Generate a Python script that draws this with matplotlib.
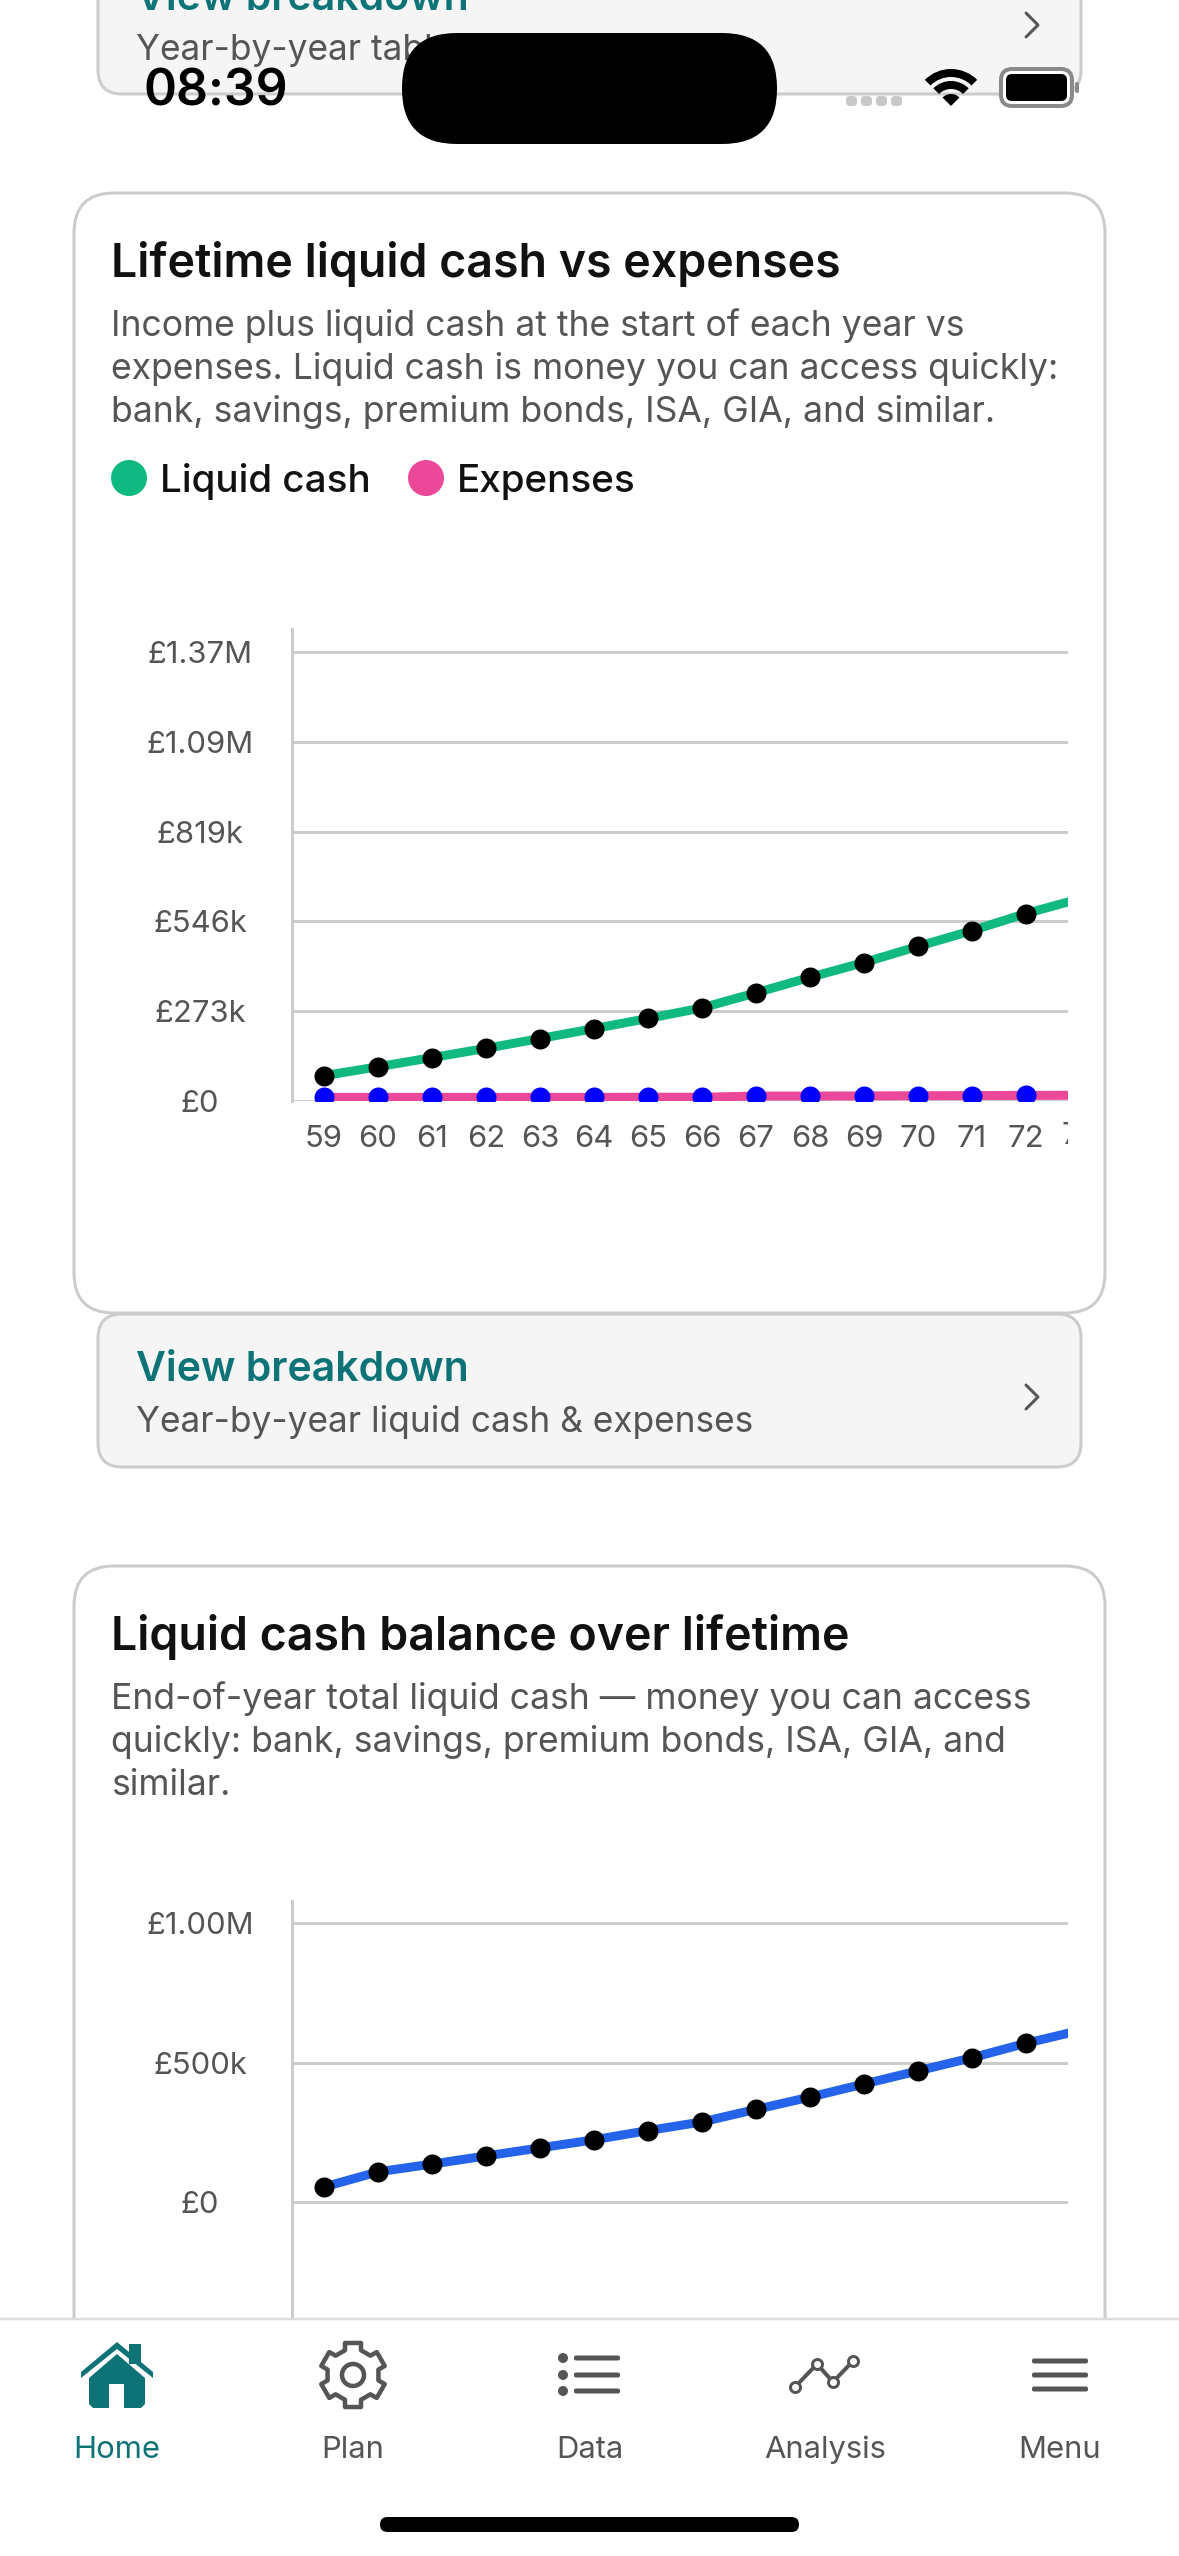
import numpy as np
import matplotlib
matplotlib.use("Agg")
import matplotlib.pyplot as plt
from matplotlib.patches import Circle, FancyBboxPatch, Polygon, Rectangle, Wedge
from matplotlib.transforms import Bbox, blended_transform_factory

plt.rcParams["font.family"] = ["Inter", "DejaVu Sans"]

W, H = 1179, 2556
DPI = 100
PT = 72 / DPI  # one pixel in points

# Data
ages = [59, 60, 61, 62, 63, 64, 65, 66, 67, 68, 69, 70, 71, 72, 73]
liquid_cash_k = [77, 104, 132, 160, 190, 220, 251, 283, 329, 376, 421, 470, 518, 570, 615]
expenses_k = [11, 11, 11, 11, 11, 11, 11.5, 11.5, 15, 15, 15.5, 16, 16.5, 17, 17.5]
balance_k = [54, 108, 136, 165, 194, 223, 256, 287, 332, 376, 423, 470, 517, 569, 615]

ticks_1 = [0, 273, 546, 819, 1092, 1365]
tick_labels_1 = ["£0", "£273k", "£546k", "£819k", "£1.09M", "£1.37M"]
ticks_2 = [0, 500, 1000]
tick_labels_2 = ["£0", "£500k", "£1.00M"]

# Colours
TEAL = "#0e7377"
GREEN = "#10b981"
PINK = "#ec4899"
BLUE = "#2563eb"
GRID = "#cccccc"
TITLE = "#111111"
MUTED = "#555555"

# Font sizes in pixels
TITLE_PX = 46.5
BODY_PX = 35.6
LEGEND_PX = 38.6
LINK_PX = 41
LINK_SUB_PX = 35.3
TICK_PX = 31

LINE_PX = 9
DOT_PX = 20

fig = plt.figure(figsize=(W / DPI, H / DPI), dpi=DPI, facecolor="white")


def pixel_axes(zorder):
    a = fig.add_axes([0, 0, 1, 1], zorder=zorder)
    a.set_xlim(0, W)
    a.set_ylim(H, 0)
    a.axis("off")
    return a


def rounded(a, x0, y0, x1, y1, r, fc, ec=None, lw=3):
    a.add_patch(FancyBboxPatch((x0, y0), x1 - x0, y1 - y0,
                               boxstyle=f"round,pad=0,rounding_size={r}",
                               fc=fc, ec=ec if ec else "none", lw=lw * PT))


def label(a, x, y, s, size, color, weight="normal", ha="left"):
    a.text(x, y, s, fontsize=size * PT, color=color, fontweight=weight, ha=ha, va="baseline")


def chevron(a, x, y0, y1):
    a.plot([x - 6, x + 6, x - 6], [y0, (y0 + y1) / 2, y1], color=MUTED, lw=3 * PT,
           solid_joinstyle="round", solid_capstyle="round")


def button(a, top, bottom, sub, head_base, sub_base):
    rounded(a, 98, top, 1081, bottom, 24, "#f5f5f5", GRID)
    label(a, 136, head_base, "View breakdown", LINK_PX, TEAL, "semibold")
    label(a, 136, sub_base, sub, LINK_SUB_PX, MUTED)
    chevron(a, 1032, head_base + 4, head_base + 28)


def chart_axes(left, top, right, bottom, zero_y, px_per_k):
    ax = fig.add_axes([left / W, 1 - bottom / H, (right - left) / W, (bottom - top) / H], zorder=2)
    ax.patch.set_alpha(0)
    ax.set_xlim(59 - (324 - left) / 54, 59 + (right - 324) / 54)
    ax.set_ylim((zero_y - bottom) / px_per_k, (zero_y - top) / px_per_k)
    for name in ["top", "right", "bottom"]:
        ax.spines[name].set_visible(False)
    ax.spines["left"].set_color(GRID)
    ax.spines["left"].set_linewidth(3 * PT)
    ax.grid(True, axis="y", color=GRID, lw=3 * PT)
    ax.set_axisbelow(True)
    ax.tick_params(axis="y", length=0, pad=92 * PT, labelsize=TICK_PX * PT, labelcolor=MUTED)
    return ax


# Page
bg = pixel_axes(1)

# Button left over from the card above, scrolled under the status bar
rounded(bg, 98, -90, 1081, 94, 24, "#f5f5f5", GRID)
label(bg, 136, 10, "View breakdown", LINK_PX, TEAL, "semibold")
label(bg, 136, 60, "Year-by-year table", LINK_SUB_PX, MUTED)
chevron(bg, 1032, 13, 37)

# First card
rounded(bg, 74, 193, 1105, 1313, 40, "white", GRID)
label(bg, 111, 277, "Lifetime liquid cash vs expenses", TITLE_PX, TITLE, "semibold")
label(bg, 111, 336, "Income plus liquid cash at the start of each year vs", BODY_PX, MUTED)
label(bg, 111, 379, "expenses. Liquid cash is money you can access quickly:", BODY_PX, MUTED)
label(bg, 111, 422, "bank, savings, premium bonds, ISA, GIA, and similar.", BODY_PX, MUTED)
bg.add_patch(Circle((129, 478), 18, fc=GREEN, ec="none"))
label(bg, 160, 492, "Liquid cash", LEGEND_PX, TITLE, "medium")
bg.add_patch(Circle((426, 478), 18, fc=PINK, ec="none"))
label(bg, 457, 492, "Expenses", LEGEND_PX, TITLE, "medium")

button(bg, 1314, 1467, "Year-by-year liquid cash & expenses", 1381, 1432)

# Second card runs on under the tab bar
rounded(bg, 74, 1566, 1105, 2700, 40, "white", GRID)
label(bg, 111, 1650, "Liquid cash balance over lifetime", TITLE_PX, TITLE, "semibold")
label(bg, 111, 1709, "End-of-year total liquid cash — money you can access", BODY_PX, MUTED)
label(bg, 111, 1752, "quickly: bank, savings, premium bonds, ISA, GIA, and", BODY_PX, MUTED)
label(bg, 111, 1795, "similar.", BODY_PX, MUTED)

# Chart 1
ax1 = chart_axes(292, 629, 1068, 1101, 1101, 89.8 / 273)
ax1.set_yticks(ticks_1, tick_labels_1)
for t in ax1.get_yticklabels():
    t.set_ha("center")
ax1.set_xticks(ages[:-1], [str(a) for a in ages[:-1]])
ax1.tick_params(axis="x", length=0, pad=24 * PT, labelsize=TICK_PX * PT, labelcolor=MUTED)
ax1.plot(ages, liquid_cash_k, color=GREEN, lw=LINE_PX * PT, marker="o", ms=DOT_PX * PT,
         mfc="black", mec="black", mew=0)
ax1.plot(ages, expenses_k, color=PINK, lw=LINE_PX * PT, marker="o", ms=DOT_PX * PT,
         mfc="#0000ff", mec="#0000ff", mew=0)
# the age after the last whole tick is cut off by the chart edge
cut = ax1.text(ages[-1], 1144, str(ages[-1]), fontsize=TICK_PX * PT, color=MUTED, ha="center",
               va="baseline", transform=blended_transform_factory(ax1.transData, bg.transData))
cut.set_clip_box(Bbox([[292, H - 1160], [1068, H - 1110]]))
cut.set_clip_on(True)

# Chart 2
ax2 = chart_axes(292, 1901, 1068, 2319, 2202, 139.5 / 500)
ax2.set_yticks(ticks_2, tick_labels_2)
for t in ax2.get_yticklabels():
    t.set_ha("center")
ax2.set_xticks([])
ax2.plot(ages, balance_k, color=BLUE, lw=LINE_PX * PT, marker="o", ms=DOT_PX * PT,
         mfc="black", mec="black", mew=0)

# Status bar and tab bar go over everything
top = pixel_axes(3)

label(top, 143, 106, "08:39", 50, "black", "semibold")
rounded(top, 402, 33, 777, 144, 55, "black")
for x in [846, 861, 876, 891]:
    rounded(top, x, 96, x + 11, 106, 4, "#c8c8c8")
top.add_patch(Wedge((951, 106), 37, 225, 315, width=8, fc="black", ec="none"))
top.add_patch(Wedge((951, 106), 25, 225, 315, width=8, fc="black", ec="none"))
top.add_patch(Wedge((951, 106), 12, 225, 315, fc="black", ec="none"))
rounded(top, 1001, 69, 1072, 106, 11, "white", "#8a8a8a", 4)
rounded(top, 1006, 74, 1067, 101, 6, "black")
rounded(top, 1075, 82, 1079, 93, 2, "#8a8a8a")

top.add_patch(Rectangle((0, 2319), W, H - 2319, fc="white", ec="none"))
top.plot([0, W], [2319, 2319], color="#dddddd", lw=2.5 * PT)

# Home icon
top.add_patch(Rectangle((129, 2344), 12, 20, fc=TEAL, ec="none"))
top.add_patch(Polygon([[117, 2342], [153, 2372], [153, 2378], [117, 2349], [81, 2378], [81, 2372]],
                      fc=TEAL, ec="none"))
top.add_patch(Polygon([[117, 2354], [145, 2378], [145, 2404], [141, 2408], [124, 2408], [124, 2384],
                       [109, 2384], [109, 2408], [93, 2408], [89, 2404], [89, 2378]],
                      fc=TEAL, ec="none"))

# Gear icon
gear = []
for k in range(6):
    a = np.deg2rad(90 + 60 * k)
    for da, r in [(-14, 33), (14, 33), (18, 26), (42, 26)]:
        t = a + np.deg2rad(da)
        gear.append([353 + r * np.cos(t), 2375 + r * np.sin(t)])
top.add_patch(Polygon(gear, fc="white", ec=MUTED, lw=4.5 * PT, joinstyle="round"))
top.add_patch(Circle((353, 2375), 11, fc="white", ec=MUTED, lw=4.5 * PT))

# Data icon
for y in [2358, 2375, 2391]:
    top.add_patch(Circle((563, y), 5, fc=MUTED, ec="none"))
    rounded(top, 574, y - 2.5, 620, y + 2.5, 2, MUTED)

# Analysis icon
top.plot([795, 817, 833, 853], [2387, 2364, 2382, 2361], color=MUTED, lw=4 * PT,
         marker="o", ms=10 * PT, mfc="white", mec=MUTED, mew=3 * PT)

# Menu icon
for y in [2361, 2375, 2389]:
    rounded(top, 1032, y - 2.5, 1088, y + 2.5, 2, MUTED)

tabs = ["Home", "Plan", "Data", "Analysis", "Menu"]
tab_x = [117, 353, 590, 825, 1060]
for name, x in zip(tabs, tab_x):
    label(top, x, 2458, name, TICK_PX, TEAL if name == "Home" else MUTED, ha="center")

rounded(top, 380, 2517, 799, 2532, 7.5, "black")

fig.savefig("out.png", dpi=DPI)
